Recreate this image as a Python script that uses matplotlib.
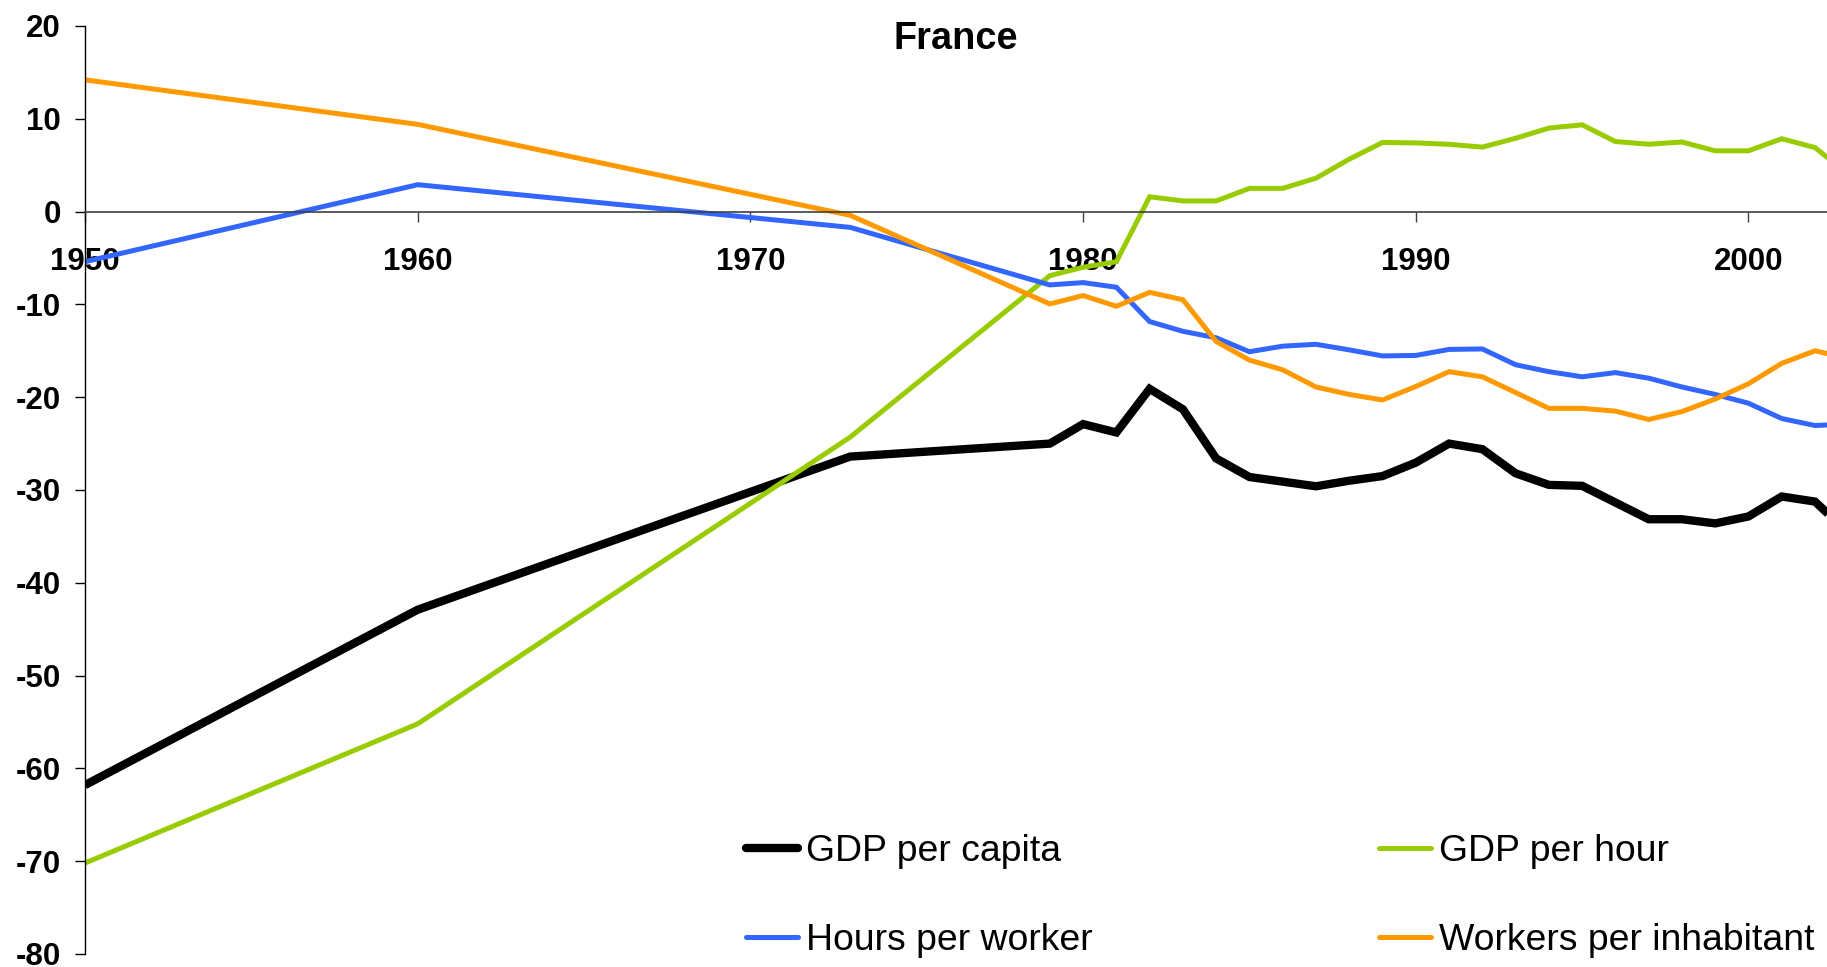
import matplotlib
matplotlib.use("Agg")
import matplotlib.pyplot as plt
from matplotlib.lines import Line2D

plt.rcParams["font.family"] = ["Liberation Sans", "DejaVu Sans"]
plt.rcParams["axes.unicode_minus"] = False

# ---------------------------------------------------------------------------
# Data, % relative gap
# ---------------------------------------------------------------------------
years = [1950, 1960, 1973] + list(range(1979, 2004))

gdp_per_capita = [-61.8, -42.9, -26.4,
                  -25.0, -22.9, -23.8, -19.1, -21.3, -26.6, -28.6, -29.1, -29.6,
                  -29.0, -28.5, -27.05, -25.0, -25.6, -28.2, -29.45, -29.55,
                  -31.35, -33.15, -33.15, -33.6, -32.85, -30.7, -31.25, -34.6]
gdp_per_hour = [-70.2, -55.2, -24.3,
                -6.9, -6.0, -5.4, 1.6, 1.15, 1.15, 2.5, 2.5, 3.6,
                5.65, 7.45, 7.4, 7.25, 6.95, 7.9, 9.0, 9.35,
                7.55, 7.26, 7.5, 6.55, 6.55, 7.85, 6.9, 4.0]
hours_per_worker = [-5.4, 2.9, -1.7,
                    -7.9, -7.65, -8.15, -11.85, -12.9, -13.6, -15.1, -14.5, -14.3,
                    -14.9, -15.55, -15.5, -14.85, -14.8, -16.5, -17.25, -17.8,
                    -17.35, -17.95, -18.9, -19.7, -20.65, -22.3, -23.05, -22.9]
workers_per_inhabitant = [14.2, 9.4, -0.4,
                          -9.95, -9.05, -10.2, -8.7, -9.5, -14.0, -16.0, -17.05, -18.9,
                          -19.7, -20.3, -18.85, -17.25, -17.8, -19.5, -21.2, -21.2,
                          -21.5, -22.4, -21.55, -20.2, -18.55, -16.35, -15.0, -15.8]

x_ticks = list(range(1950, 2001, 10))
y_ticks = list(range(-80, 21, 10))

series = [
    ("GDP per capita",         gdp_per_capita,         "#000000", 6.0),
    ("GDP per hour",           gdp_per_hour,           "#99CC00", 3.6),
    ("Hours per worker",       hours_per_worker,       "#3366FF", 3.6),
    ("Workers per inhabitant", workers_per_inhabitant, "#FF9900", 3.6),
]

# ---------------------------------------------------------------------------
# Figure
# ---------------------------------------------------------------------------
W, H = 1827, 967
fig = plt.figure(figsize=(W / 100, H / 100), dpi=100)
ax = fig.add_axes([85 / W, 13 / H, 1 - 85 / W, 928 / H])

handles = {}
for label, vals, color, lw in series:
    ax.plot(years, vals, color=color, linewidth=lw,
            solid_joinstyle="miter", solid_capstyle="butt")
    handles[label] = Line2D([], [], color=color, linewidth=lw, solid_capstyle="round")

ax.set_xlim(1950, 2002.36)
ax.set_ylim(-80, 20)
ax.set_xticks(x_ticks)
ax.set_yticks(y_ticks)

for s in ("top", "right"):
    ax.spines[s].set_visible(False)
ax.spines["bottom"].set_position(("data", 0))
ax.spines["bottom"].set_color("#404040")
ax.spines["bottom"].set_linewidth(1.2)
ax.spines["left"].set_linewidth(1.0)

ax.tick_params(axis="x", direction="out", length=7.2, width=1, color="#404040",
               pad=18, labelsize=22.5)
ax.tick_params(axis="y", direction="out", length=7.2, width=1, pad=10, labelsize=22.5)
for t in ax.get_xticklabels() + ax.get_yticklabels():
    t.set_fontweight("bold")

fig.text(956 / W, 1 - 39 / H, "France", ha="center", va="center",
         fontsize=27.3, fontweight="bold")

order = ["GDP per capita", "Hours per worker", "GDP per hour", "Workers per inhabitant"]
ax.legend([handles[k] for k in order], order, ncol=2, frameon=False,
          loc="upper left", bbox_to_anchor=(746 / W, 1 - 834 / H),
          bbox_transform=fig.transFigure, borderpad=0, borderaxespad=0,
          fontsize=26.9, handlelength=1.4, handletextpad=0.2,
          columnspacing=7.67, labelspacing=1.45)

fig.savefig("out.png", dpi=100)
